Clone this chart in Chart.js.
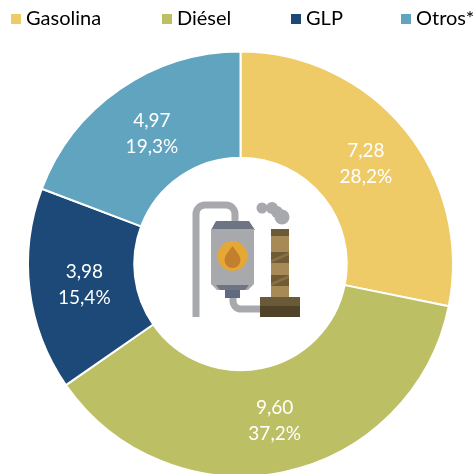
<!DOCTYPE html>
<html><head><meta charset="utf-8">
<style>
html,body{margin:0;padding:0;background:#fff;overflow:hidden}
#w{position:relative;width:474px;height:474px;overflow:hidden}
canvas{position:absolute;left:0;top:0}
svg{position:absolute;left:0;top:0}
</style>
<script src="https://cdn.jsdelivr.net/npm/chart.js@4"></script>
</head><body>
<div id="w"><canvas id="c" width="474" height="484"></canvas>
<svg width="474" height="474" viewBox="0 0 474 474">
 <path d="M196 317V214a9 9 0 0 1 9-9h21a9 9 0 0 1 9 9v10" fill="none" stroke="#a7a9ac" stroke-width="7"/>
 <path d="M233 296v5a8 8 0 0 0 8 8h20" fill="none" stroke="#a7a9ac" stroke-width="7"/>
 <path d="M216 221h33l6 9H211z" fill="#6d7584"/>
 <path d="M211 229h43v55l-6 6h-31l-6-6z" fill="#a7a9ac"/>
 <path d="M216 285h33l-4 5h-25z" fill="#6d7584"/>
 <rect x="225" y="290" width="15" height="8" fill="#5f6a80"/>
 <circle cx="232.5" cy="256" r="15" fill="#e5a834"/>
 <path d="M232.5 246c3 5 8 9 8 14a8 8 0 0 1-16 0c0-5 5-9 8-14z" fill="#c47f2e"/>
 <circle cx="262" cy="208" r="5.5" fill="#a7a9ac"/><circle cx="272" cy="208" r="6" fill="#a7a9ac"/>
 <circle cx="277" cy="212" r="6" fill="#a7a9ac"/><circle cx="282" cy="217" r="7.5" fill="#a7a9ac"/>
 <rect x="271" y="229" width="18" height="68" fill="#a88a56"/>
 <rect x="271" y="229" width="18" height="7" fill="#6b5a37"/>
 <path d="M271 252h18v11h-18z M271 275h18v11h-18z" fill="#6f5b35"/>
 <path d="M271 260l18-8h0v3l-18 8z M271 283l18-8h0v3l-18 8z" fill="#a88a56" opacity=".45"/>
 <rect x="260" y="297" width="40" height="10" fill="#6b5a37"/>
 <rect x="260" y="306" width="40" height="11" fill="#4f4226"/>
</svg></div>
<script>
const categories = ["Gasolina", "Diésel", "GLP", "Otros*"];
const values = [7.28, 9.60, 3.98, 4.97];
const valueLabels = ["7,28", "9,60", "3,98", "4,97"];
const shareLabels = ["28,2%", "37,2%", "15,4%", "19,3%"];
const colours = ["#EFCB68", "#BDBF64", "#1C4978", "#60A4C0"];
const legendSquareX = [11, 162, 291, 401];
const FONT = 'Lato, "Open Sans", sans-serif';

const textPlugin = {
  id: "textPlugin",
  afterDraw(chart) {
    const ctx = chart.ctx;
    ctx.save();
    ctx.textBaseline = "middle";
    ctx.textAlign = "center";
    ctx.font = "19px " + FONT;
    ctx.fillStyle = "#fff";
    chart.getDatasetMeta(0).data.forEach((arc, i) => {
      const p = arc.tooltipPosition();
      ctx.fillText(valueLabels[i], p.x + 2, p.y - 12);
      ctx.fillText(shareLabels[i], p.x + 2, p.y + 14);
    });
    ctx.textAlign = "left";
    ctx.font = "20px " + FONT;
    categories.forEach((name, i) => {
      ctx.fillStyle = colours[i];
      ctx.fillRect(legendSquareX[i], 14, 10, 10);
      ctx.fillStyle = "#000";
      ctx.fillText(name, legendSquareX[i] + 15, 19);
    });
    ctx.restore();
  }
};

new Chart(document.getElementById("c"), {
  type: "doughnut",
  data: { labels: categories, datasets: [{ data: values, backgroundColor: colours, borderColor: "#fff", borderWidth: 2 }] },
  options: {
    responsive: false, animation: false, cutout: "50%",
    layout: { padding: { left: 27, right: 20, top: 50, bottom: 6 } },
    plugins: { legend: { display: false }, tooltip: { enabled: false } }
  },
  plugins: [textPlugin]
});
</script>
</body></html>
